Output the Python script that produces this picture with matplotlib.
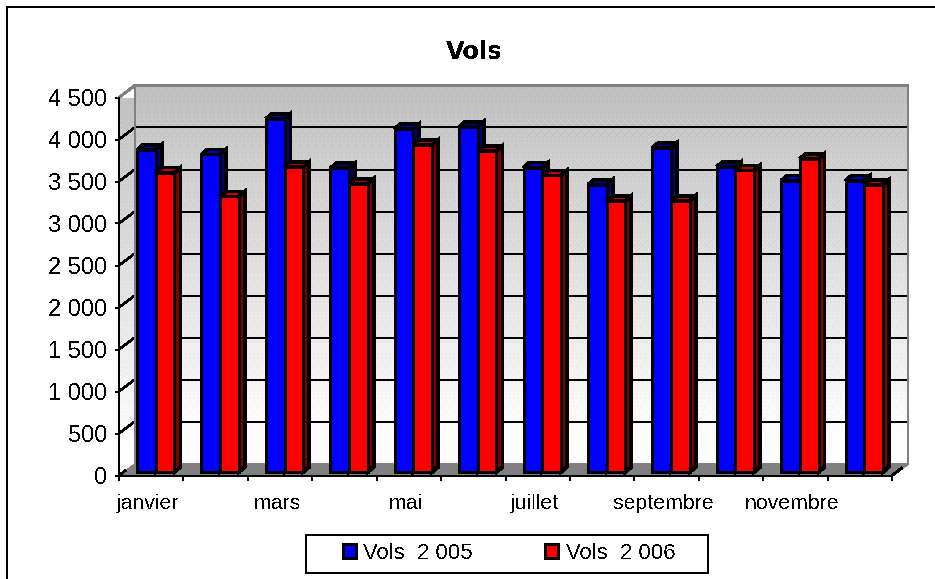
import numpy as np
import matplotlib
matplotlib.use("Agg")
import matplotlib.pyplot as plt
from matplotlib.patches import Polygon, Rectangle
from matplotlib.lines import Line2D
from matplotlib.transforms import offset_copy

plt.rcParams['font.family'] = ['Liberation Sans', 'DejaVu Sans']
plt.rcParams['text.antialiased'] = False
plt.rcParams['lines.antialiased'] = False
plt.rcParams['patch.antialiased'] = False

months = ['janvier', 'février', 'mars', 'avril', 'mai', 'juin', 'juillet',
          'août', 'septembre', 'octobre', 'novembre', 'décembre']
vols_2005 = [3835, 3780, 4205, 3615, 4085, 4110, 3625, 3420, 3860, 3635, 3470, 3470]
vols_2006 = [3565, 3280, 3635, 3430, 3895, 3825, 3530, 3230, 3230, 3590, 3730, 3420]
y_ticks = [0, 500, 1000, 1500, 2000, 2500, 3000, 3500, 4000, 4500]
y_labels = ['0', '500', '1 000', '1 500', '2 000', '2 500', '3 000', '3 500', '4 000', '4 500']

W, H = 935, 579
LW = 1.44
BAR_LW = 2.0
fig = plt.figure(figsize=(W / 100, H / 100), dpi=100, facecolor='white')
ax = fig.add_axes([119 / W, (H - 475.5) / H, 773 / W, 378 / H])
ax.patch.set_alpha(0)
XMAX, YMAX = 12, 4500
ax.set_xlim(0, XMAX)
ax.set_ylim(0, YMAX)

# depth of the 3D box and of each bar, in data units
DX = 16 / (773 / 12)
DY = 12 / (378 / 4500)
BDX = 6 / (773 / 12)
BDY = 5 / (378 / 4500)

# dithered wall gradient
bayer = np.array([[0, 8, 2, 10], [12, 4, 14, 6], [3, 11, 1, 9], [15, 7, 13, 5]]) / 16
rows, cols = 189, 387
ramp = np.linspace(192, 258, rows)[:, None] * np.ones((rows, cols))
tile = np.tile(bayer, (rows // 4 + 1, cols // 4 + 1))[:rows, :cols]
step = 7
grad = np.clip(np.floor((ramp + tile * step) / step) * step, 0, 255)
img = ax.imshow(grad, cmap='gray', vmin=0, vmax=255, origin='upper', aspect='auto',
                interpolation='nearest', extent=[DX, XMAX + DX, DY, YMAX + DY],
                zorder=1, clip_on=False)
side = ax.imshow(grad, cmap='gray', vmin=0, vmax=255, origin='upper', aspect='auto',
                 interpolation='nearest', extent=[0, DX, 0, YMAX + DY], zorder=1)
wall_poly = Polygon([(0, 0), (DX, DY), (DX, YMAX + DY), (0, YMAX)], closed=True,
                    transform=ax.transData, facecolor='none', edgecolor='none')
ax.add_patch(wall_poly)
side.set_clip_path(wall_poly)
ax.set_xlim(0, XMAX)
ax.set_ylim(0, YMAX)

# floor
ax.add_patch(Polygon([(0, 0), (XMAX, 0), (XMAX + DX, DY), (DX, DY)], closed=True,
                     facecolor='#808080', edgecolor='none', zorder=2, clip_on=False))

# grid lines on the back and left walls
for v in y_ticks[1:-1]:
    ax.plot([DX, XMAX + DX], [v + DY, v + DY], color='black', lw=LW, zorder=3, clip_on=False)
    ax.plot([0, DX], [v, v + DY], color='black', lw=LW * 0.8, zorder=3, clip_on=False)

# grey wall outlines
ax.plot([0, DX, XMAX + DX, XMAX + DX, XMAX],
        [YMAX, YMAX + DY, YMAX + DY, DY, 0], color='#808080', lw=LW, zorder=3, clip_on=False)
ax.plot([DX, DX], [DY, YMAX + DY], color='#808080', lw=LW, zorder=3, clip_on=False)
ax.plot([XMAX, XMAX + DX * 0.6], [0, DY * 0.6], color='black', lw=LW, zorder=3, clip_on=False)
ax.plot([0, DX * 0.4], [0, DY * 0.4], color='black', lw=LW * 0.8, zorder=3, clip_on=False)

# bars
lift = offset_copy(ax.transData, fig=fig, x=0, y=3.5, units='dots')
BW = 0.29
START = 0.28
series = [
    (vols_2005, START, '#0000FF', '#0000C0', '#000080', 'Vols  2 005'),
    (vols_2006, START + BW, '#FF0000', '#C00000', '#800000', 'Vols  2 006'),
]
handles = []
for i in range(len(months)):
    base_z = 5 + i * 3
    for k, (vals, off, front, top, sidec, label) in enumerate(series):
        x = i + off
        v = vals[i]
        z = base_z + k
        ax.add_patch(Polygon([(x + BW, 0), (x + BW + BDX, BDY), (x + BW + BDX, v + BDY), (x + BW, v)],
                             closed=True, facecolor=sidec, edgecolor='black', linewidth=BAR_LW,
                             transform=lift, zorder=z, clip_on=False))
        ax.add_patch(Polygon([(x, v), (x + BDX, v + BDY), (x + BW + BDX, v + BDY), (x + BW, v)],
                             closed=True, facecolor=top, edgecolor='black', linewidth=BAR_LW,
                             transform=lift, zorder=z, clip_on=False))
        b = ax.bar(x, v, BW, align='edge', color=front, edgecolor='black', linewidth=BAR_LW,
                   transform=lift, zorder=z + 0.5, clip_on=False)
        if i == 0:
            handles.append(b[0])

# axes
for s in ['top', 'right']:
    ax.spines[s].set_visible(False)
for s in ['left', 'bottom']:
    ax.spines[s].set_linewidth(LW)
    ax.spines[s].set_zorder(60)
ax.set_yticks(y_ticks)
ax.set_yticklabels(y_labels, fontsize=17)
ax.tick_params(axis='y', length=3, width=LW, pad=5.5, color='black')
ax.set_xticks(np.arange(0, XMAX + 1))
ax.set_xticklabels([])
ax.tick_params(axis='x', which='major', length=3.6, width=LW, color='black')
ax.set_xticks(np.arange(len(months)) + 0.45, minor=True)
ax.set_xticklabels([m if i % 2 == 0 else '' for i, m in enumerate(months)],
                   minor=True, fontsize=15.3)
ax.tick_params(axis='x', which='minor', length=0, pad=13)

fig.suptitle('Vols', x=474 / W, y=1 - 52 / H, fontsize=17.5, fontweight='bold', va='center',
             family='DejaVu Sans')

# legend
leg = ax.legend(handles, [s[5] for s in series], ncol=2, frameon=False, fontsize=15.9,
                loc='center', bbox_to_anchor=((509) / W, 1 - 553.5 / H),
                bbox_transform=fig.transFigure, borderpad=0, borderaxespad=0,
                handlelength=0.6, handleheight=0.6, handletextpad=0.35, columnspacing=3.25)
fig.add_artist(Rectangle((306 / W, 1 - 573 / H), 402 / W, 38 / H, transform=fig.transFigure,
                         facecolor='none', edgecolor='black', linewidth=LW))

# outer frame (left and top only visible)
fig.add_artist(Line2D([6.5 / W, 6.5 / W, 1], [0, 1 - 6.5 / H, 1 - 6.5 / H],
                      transform=fig.transFigure, color='black', lw=LW))

fig.savefig('out.png', dpi=100)
